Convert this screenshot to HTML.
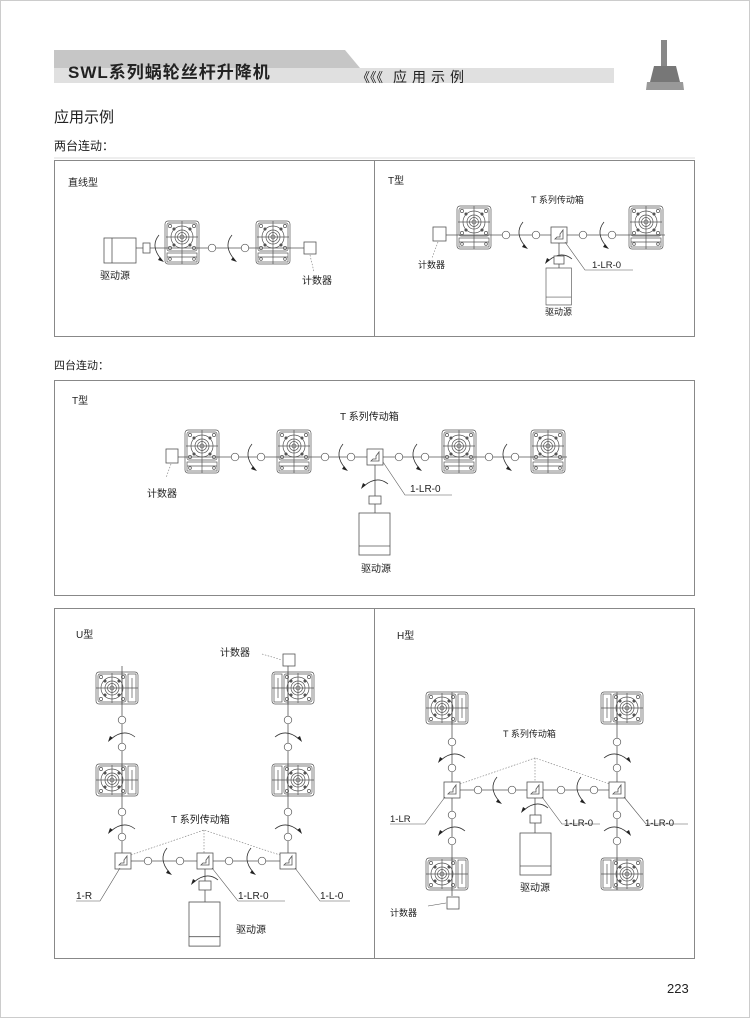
<!DOCTYPE html>
<html><head><meta charset="utf-8"><style>
html,body{margin:0;padding:0;background:#fff}
svg{display:block}
text{font-family:"Liberation Sans","Noto Sans CJK SC",sans-serif;fill:#222}
</style></head><body>
<svg width="750" height="1018" viewBox="0 0 750 1018" xmlns="http://www.w3.org/2000/svg">
<defs>
<g id="g" fill="none" stroke="#555" stroke-width="0.7">
<rect x="0" y="0" width="34" height="43" rx="3"/>
<rect x="2" y="2" width="30" height="28" rx="2"/>
<circle cx="17" cy="16" r="11"/><circle cx="17" cy="16" r="7"/><circle cx="17" cy="16" r="4.5"/><circle cx="17" cy="16" r="2"/>
<line x1="17" y1="0" x2="17" y2="43"/><line x1="1" y1="16" x2="33" y2="16"/>
<rect x="2" y="32" width="30" height="9"/><line x1="2" y1="36" x2="32" y2="36"/>
<circle cx="5" cy="5" r="1.6"/><circle cx="29" cy="5" r="1.6"/><circle cx="5" cy="27" r="1.6"/><circle cx="29" cy="27" r="1.6"/>
<circle cx="9" cy="8" r="1.2" fill="#555"/><circle cx="25" cy="8" r="1.2" fill="#555"/><circle cx="9" cy="24" r="1.2" fill="#555"/><circle cx="25" cy="24" r="1.2" fill="#555"/>
<circle cx="5" cy="38" r="1.4"/><circle cx="29" cy="38" r="1.4"/>
</g>
<g id="gv" fill="none" stroke="#555" stroke-width="0.7">
<rect x="0" y="0" width="42" height="32" rx="3"/>
<rect x="2" y="2" width="28" height="28" rx="2"/>
<circle cx="16" cy="16" r="11"/><circle cx="16" cy="16" r="7"/><circle cx="16" cy="16" r="4.5"/><circle cx="16" cy="16" r="2"/>
<line x1="0" y1="16" x2="42" y2="16"/><line x1="26" y1="0" x2="26" y2="32"/><line x1="16" y1="1" x2="16" y2="31"/>
<rect x="32" y="2" width="8" height="28"/><line x1="36" y1="6" x2="36" y2="26"/>
<circle cx="5" cy="5" r="1.6"/><circle cx="27" cy="5" r="1.6"/><circle cx="5" cy="27" r="1.6"/><circle cx="27" cy="27" r="1.6"/>
<circle cx="9" cy="9" r="1.2" fill="#555"/><circle cx="23" cy="9" r="1.2" fill="#555"/><circle cx="9" cy="23" r="1.2" fill="#555"/><circle cx="23" cy="23" r="1.2" fill="#555"/>
</g>
<g id="a"><path d="M2,-13 Q-7,-2 4,11" fill="none" stroke="#333" stroke-width="0.8"/><path d="M3,9 L7,14 L1,12 Z" fill="#222"/></g>
<g id="c"><circle r="3.8" fill="#fff" stroke="#555" stroke-width="0.7"/></g>
<g id="t" fill="none" stroke="#555" stroke-width="0.8"><rect x="-8" y="-8" width="16" height="16" fill="#fff"/><path d="M-4,4 L4,4 L4,-5 L1,-1 L1,2 L-2,2 Z"/></g>
<g id="m" fill="none" stroke="#555" stroke-width="0.8"><rect x="0" y="0" width="31" height="42" fill="#fff"/><line x1="0" y1="33" x2="31" y2="33"/></g>
</defs>

<rect x="0.5" y="0.5" width="749" height="1017" fill="none" stroke="#ccc"/>
<path d="M54,50 L345,50 L360,68 L54,68 Z" fill="#c6c6c6"/>
<rect x="54" y="68" width="560" height="15" fill="#e0e0e0"/>
<text x="68" y="78" font-size="17" font-weight="bold" letter-spacing="1" fill="#222">SWL系列蜗轮丝杆升降机</text>
<text x="357" y="82" font-size="13" letter-spacing="0" fill="#333">《《《</text>
<text x="393" y="82" font-size="14" letter-spacing="5" fill="#333">应用示例</text>
<rect x="661" y="40" width="6" height="28" fill="#888"/>
<path d="M654,66 L676,66 L680,82 L650,82 Z" fill="#777"/>
<path d="M647,82 L683,82 L684,90 L646,90 Z" fill="#999"/>

<text x="54" y="122" font-size="15">应用示例</text>
<text x="54" y="150" font-size="12">两台连动：</text>
<line x1="54" y1="158" x2="695" y2="158" stroke="#ddd"/>

<rect x="54.5" y="160.5" width="640" height="176" fill="none" stroke="#888"/>
<line x1="374.5" y1="160" x2="374.5" y2="336" stroke="#888"/>
<text x="68" y="186" font-size="10">直线型</text>
<line x1="136" y1="248" x2="304" y2="248" stroke="#555" stroke-width="0.8"/>
<g fill="none" stroke="#555" stroke-width="0.8"><rect x="104" y="238" width="32" height="25" fill="#fff"/><line x1="112" y1="238" x2="112" y2="263"/><rect x="143" y="243" width="7" height="10" fill="#fff"/><rect x="304" y="242" width="12" height="12" fill="#fff"/></g>
<use href="#g" x="165" y="221"/><use href="#g" x="256" y="221"/>
<use href="#a" x="157" y="248"/><use href="#c" x="212" y="248"/><use href="#a" x="230" y="248"/><use href="#c" x="245" y="248"/>
<line x1="310" y1="255" x2="314" y2="272" stroke="#777" stroke-width="0.6" stroke-dasharray="1.5,1.5"/>
<text x="100" y="279" font-size="10">驱动源</text>
<text x="302" y="284" font-size="10">计数器</text>

<text x="388" y="184" font-size="10">T型</text>
<text x="531" y="203" font-size="9">T 系列传动箱</text>
<line x1="446" y1="235" x2="665" y2="235" stroke="#555" stroke-width="0.8"/>
<rect x="433" y="227" width="13" height="14" fill="#fff" stroke="#555" stroke-width="0.8"/>
<line x1="438" y1="242" x2="432" y2="258" stroke="#777" stroke-width="0.6" stroke-dasharray="1.5,1.5"/>
<text x="418" y="268" font-size="9">计数器</text>
<use href="#g" x="457" y="206"/><use href="#g" x="629" y="206"/>
<use href="#c" x="506" y="235"/><use href="#a" x="521" y="235"/><use href="#c" x="536" y="235"/>
<use href="#c" x="583" y="235"/><use href="#a" x="602" y="235"/><use href="#c" x="612" y="235"/>
<line x1="559" y1="243" x2="559" y2="268" stroke="#555" stroke-width="0.8"/>
<use href="#t" x="559" y="235"/>
<use href="#a" transform="translate(559,257) rotate(90)"/>
<rect x="554" y="256" width="10" height="8" fill="#fff" stroke="#555" stroke-width="0.8"/>
<use href="#m" transform="translate(546,268) scale(0.82,0.88)"/>
<path d="M565,242 L585,270 L633,270" fill="none" stroke="#555" stroke-width="0.6"/>
<text x="592" y="268" font-size="9.5">1-LR-0</text>
<text x="545" y="315" font-size="9">驱动源</text>

<text x="54" y="369" font-size="11">四台连动：</text>

<rect x="54.5" y="380.5" width="640" height="215" fill="none" stroke="#888"/>
<text x="72" y="404" font-size="10">T型</text>
<text x="340" y="420" font-size="10">T 系列传动箱</text>
<line x1="178" y1="457" x2="567" y2="457" stroke="#555" stroke-width="0.8"/>
<rect x="166" y="449" width="12" height="14" fill="#fff" stroke="#555" stroke-width="0.8"/>
<line x1="171" y1="464" x2="166" y2="478" stroke="#777" stroke-width="0.6" stroke-dasharray="1.5,1.5"/>
<text x="147" y="497" font-size="10">计数器</text>
<use href="#g" x="185" y="430"/><use href="#g" x="277" y="430"/><use href="#g" x="442" y="430"/><use href="#g" x="531" y="430"/>
<use href="#c" x="235" y="457"/><use href="#a" x="250" y="457"/><use href="#c" x="261" y="457"/>
<use href="#c" x="325" y="457"/><use href="#a" x="341" y="457"/><use href="#c" x="351" y="457"/>
<use href="#c" x="399" y="457"/><use href="#a" x="415" y="457"/><use href="#c" x="425" y="457"/>
<use href="#c" x="489" y="457"/><use href="#a" x="505" y="457"/><use href="#c" x="515" y="457"/>
<line x1="375" y1="465" x2="375" y2="513" stroke="#555" stroke-width="0.8"/>
<use href="#t" x="375" y="457"/>
<use href="#a" transform="translate(375,482) rotate(90)"/>
<rect x="369" y="496" width="12" height="8" fill="#fff" stroke="#555" stroke-width="0.8"/>
<use href="#m" x="359" y="513"/>
<path d="M383,462 L405,495 L452,495" fill="none" stroke="#555" stroke-width="0.6"/>
<text x="410" y="492" font-size="10">1-LR-0</text>
<text x="361" y="572" font-size="10">驱动源</text>

<rect x="54.5" y="608.5" width="640" height="350" fill="none" stroke="#888"/>
<line x1="374.5" y1="608" x2="374.5" y2="958" stroke="#888"/>
<text x="76" y="638" font-size="10">U型</text>
<line x1="122" y1="666" x2="122" y2="861" stroke="#555" stroke-width="0.8"/>
<line x1="288" y1="666" x2="288" y2="861" stroke="#555" stroke-width="0.8"/>
<line x1="123" y1="861" x2="288" y2="861" stroke="#555" stroke-width="0.8"/>
<use href="#gv" x="96" y="672"/><use href="#gv" x="96" y="764"/>
<use href="#gv" transform="translate(314,672) scale(-1,1)"/><use href="#gv" transform="translate(314,764) scale(-1,1)"/>
<rect x="283" y="654" width="12" height="12" fill="#fff" stroke="#555" stroke-width="0.8"/>
<line x1="262" y1="654" x2="282" y2="660" stroke="#777" stroke-width="0.6" stroke-dasharray="1.5,1.5"/>
<text x="220" y="656" font-size="10">计数器</text>
<use href="#c" x="122" y="720"/><use href="#a" transform="translate(122,735) rotate(90)"/><use href="#c" x="122" y="747"/>
<use href="#c" x="122" y="812"/><use href="#a" transform="translate(122,827) rotate(90)"/><use href="#c" x="122" y="837"/>
<use href="#c" x="288" y="720"/><use href="#a" transform="translate(288,735) rotate(90) scale(1,-1)"/><use href="#c" x="288" y="747"/>
<use href="#c" x="288" y="812"/><use href="#a" transform="translate(288,827) rotate(90) scale(1,-1)"/><use href="#c" x="288" y="837"/>
<text x="171" y="823" font-size="10">T 系列传动箱</text>
<path d="M131,855 L204,830 L280,855 M204,830 L204,853" fill="none" stroke="#777" stroke-width="0.6" stroke-dasharray="1.5,1.5"/>
<use href="#c" x="148" y="861"/><use href="#a" x="165" y="861"/><use href="#c" x="180" y="861"/>
<use href="#c" x="229" y="861"/><use href="#a" x="249" y="861"/><use href="#c" x="262" y="861"/>
<use href="#t" x="123" y="861"/><use href="#t" x="288" y="861"/>
<line x1="205" y1="869" x2="205" y2="902" stroke="#555" stroke-width="0.8"/>
<use href="#t" x="205" y="861"/>
<use href="#a" transform="translate(205,878) rotate(90)"/>
<rect x="199" y="881" width="12" height="9" fill="#fff" stroke="#555" stroke-width="0.8"/>
<use href="#m" transform="translate(189,902) scale(1,1.05)"/>
<path d="M120,868 L100,901 L76,901 M212,868 L238,901 L285,901 M295,868 L320,901 L350,901" fill="none" stroke="#555" stroke-width="0.6"/>
<text x="76" y="899" font-size="10">1-R</text>
<text x="238" y="899" font-size="10">1-LR-0</text>
<text x="320" y="899" font-size="10">1-L-0</text>
<text x="236" y="933" font-size="10">驱动源</text>

<text x="397" y="639" font-size="10">H型</text>
<line x1="452" y1="694" x2="452" y2="896" stroke="#555" stroke-width="0.8"/>
<line x1="617" y1="694" x2="617" y2="890" stroke="#555" stroke-width="0.8"/>
<line x1="452" y1="790" x2="617" y2="790" stroke="#555" stroke-width="0.8"/>
<use href="#gv" x="426" y="692"/><use href="#gv" x="426" y="858"/>
<use href="#gv" transform="translate(643,692) scale(-1,1)"/><use href="#gv" transform="translate(643,858) scale(-1,1)"/>
<rect x="447" y="897" width="12" height="12" fill="#fff" stroke="#555" stroke-width="0.8"/>
<line x1="428" y1="906" x2="446" y2="903" stroke="#555" stroke-width="0.6"/>
<text x="390" y="916" font-size="9">计数器</text>
<use href="#c" x="452" y="742"/><use href="#a" transform="translate(452,756) rotate(90)"/><use href="#c" x="452" y="768"/>
<use href="#c" x="452" y="815"/><use href="#a" transform="translate(452,829) rotate(90)"/><use href="#c" x="452" y="841"/>
<use href="#c" x="617" y="742"/><use href="#a" transform="translate(617,756) rotate(90) scale(1,-1)"/><use href="#c" x="617" y="768"/>
<use href="#c" x="617" y="815"/><use href="#a" transform="translate(617,829) rotate(90) scale(1,-1)"/><use href="#c" x="617" y="841"/>
<text x="503" y="737" font-size="9">T 系列传动箱</text>
<path d="M460,784 L535,758 L610,784 M535,758 L535,782" fill="none" stroke="#777" stroke-width="0.6" stroke-dasharray="1.5,1.5"/>
<use href="#c" x="478" y="790"/><use href="#a" x="495" y="790"/><use href="#c" x="512" y="790"/>
<use href="#c" x="561" y="790"/><use href="#a" x="579" y="790"/><use href="#c" x="594" y="790"/>
<use href="#t" x="452" y="790"/><use href="#t" x="617" y="790"/>
<line x1="535" y1="798" x2="535" y2="833" stroke="#555" stroke-width="0.8"/>
<use href="#t" x="535" y="790"/>
<use href="#a" transform="translate(535,806) rotate(90)"/>
<rect x="530" y="815" width="11" height="8" fill="#fff" stroke="#555" stroke-width="0.8"/>
<use href="#m" x="520" y="833"/>
<path d="M445,797 L425,824 L390,824 M542,797 L562,824 L600,824 M624,797 L646,824 L688,824" fill="none" stroke="#555" stroke-width="0.6"/>
<text x="390" y="822" font-size="9.5">1-LR</text>
<text x="564" y="826" font-size="9.5">1-LR-0</text>
<text x="645" y="826" font-size="9.5">1-LR-0</text>
<text x="520" y="891" font-size="10">驱动源</text>

<text x="667" y="993" font-size="13">223</text>
</svg>
</body></html>
